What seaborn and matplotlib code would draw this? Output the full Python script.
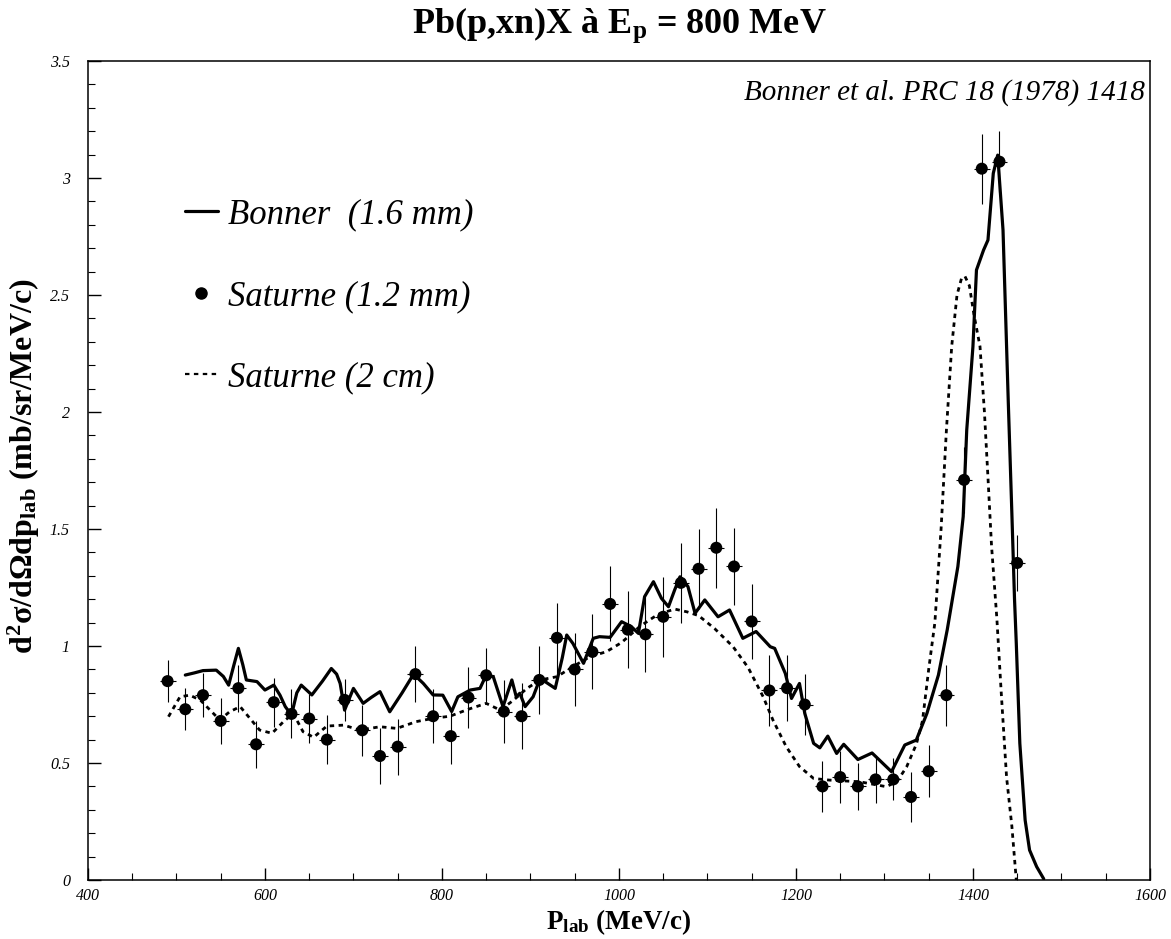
"""Pb(p,xn)X double-differential cross section at Ep = 800 MeV."""

import matplotlib
matplotlib.use("Agg")
import matplotlib.pyplot as plt
from matplotlib.lines import Line2D
from matplotlib.ticker import MultipleLocator, FormatStrFormatter, FuncFormatter
import pandas as pd
import seaborn as sns

# Saturne (1.2 mm) data points with errors
p_data = [490, 510, 530, 550, 570, 590, 610, 630, 650, 670, 690, 710, 730, 750, 770,
          790, 810, 830, 850, 870, 890, 910, 930, 950, 970, 990, 1010, 1030, 1050,
          1070, 1090, 1110, 1130, 1150, 1170, 1190, 1210, 1230, 1250, 1270, 1290,
          1310, 1330, 1350, 1370, 1390, 1410, 1430, 1450]
sigma_data = [0.85, 0.73, 0.79, 0.68, 0.82, 0.58, 0.76, 0.71, 0.69, 0.60, 0.77, 0.64,
              0.53, 0.57, 0.88, 0.70, 0.615, 0.78, 0.875, 0.72, 0.70, 0.855, 1.035,
              0.90, 0.975, 1.18, 1.07, 1.05, 1.125, 1.27, 1.33, 1.42, 1.34, 1.105,
              0.81, 0.82, 0.75, 0.40, 0.44, 0.40, 0.43, 0.43, 0.355, 0.465, 0.79,
              1.71, 3.04, 3.07, 1.355]
sigma_err = [0.09, 0.09, 0.095, 0.10, 0.10, 0.10, 0.105, 0.105, 0.105, 0.105, 0.09,
             0.11, 0.12, 0.12, 0.12, 0.115, 0.12, 0.13, 0.115, 0.135, 0.14, 0.145,
             0.15, 0.155, 0.16, 0.16, 0.165, 0.16, 0.17, 0.17, 0.17, 0.17, 0.165,
             0.16, 0.15, 0.14, 0.13, 0.11, 0.11, 0.10, 0.10, 0.09, 0.105, 0.11, 0.13,
             0.14, 0.15, 0.13, 0.12]

# Bonner (1.6 mm) curve
bonner_p = [510, 520, 530, 545, 553, 559, 565, 570, 575, 579, 591, 600, 610, 617, 623,
            630, 636, 641, 653, 665, 675, 681, 685, 690, 700, 711, 720, 730, 741, 755,
            768, 779, 790, 801, 811, 818, 832, 843, 850, 858, 869, 879, 884, 888, 894,
            903, 911, 928, 936, 941, 948, 960, 971, 978, 990, 1003, 1014, 1022, 1029,
            1039, 1048, 1056, 1063, 1069, 1078, 1086, 1097, 1112, 1125, 1140, 1155,
            1171, 1176, 1188, 1195, 1204, 1210, 1220, 1227, 1236, 1246, 1254, 1270,
            1286, 1308, 1323, 1336, 1348, 1361, 1371, 1383, 1389, 1393, 1400, 1404,
            1412, 1417, 1423, 1428, 1434, 1440, 1444, 1447, 1449, 1453, 1459, 1464,
            1472, 1480]
bonner_sigma = [0.876, 0.885, 0.895, 0.897, 0.87, 0.833, 0.92, 0.99, 0.92, 0.855,
                0.848, 0.812, 0.833, 0.79, 0.741, 0.705, 0.80, 0.833, 0.791, 0.85,
                0.904, 0.88, 0.840, 0.726, 0.819, 0.755, 0.78, 0.805, 0.719, 0.80,
                0.880, 0.84, 0.791, 0.79, 0.72, 0.783, 0.812, 0.819, 0.876, 0.869,
                0.741, 0.855, 0.783, 0.798, 0.741, 0.783, 0.862, 0.819, 0.95, 1.047,
                1.011, 0.926, 1.033, 1.040, 1.037, 1.104, 1.083, 1.054, 1.211, 1.275,
                1.204, 1.168, 1.24, 1.296, 1.254, 1.14, 1.197, 1.125, 1.154, 1.033,
                1.062, 0.997, 0.99, 0.883, 0.776, 0.840, 0.712, 0.584, 0.565, 0.615,
                0.541, 0.58, 0.515, 0.543, 0.463, 0.577, 0.598, 0.712, 0.876, 1.07,
                1.34, 1.553, 1.923, 2.279, 2.607, 2.692, 2.735, 3.02, 3.098, 2.778,
                2.037, 1.567, 1.2, 1.011, 0.584, 0.256, 0.128, 0.057, 0.005]

# Saturne (2 cm) curve
sat2_p = [491, 504, 515, 527, 536, 549, 560, 572, 583, 594, 608, 621, 632, 643, 655,
          670, 689, 707, 730, 749, 771, 790, 809, 830, 850, 866, 881, 896, 911, 930,
          948, 967, 986, 1003, 1024, 1044, 1063, 1077, 1090, 1108, 1129, 1146, 1163,
          1174, 1189, 1204, 1220, 1238, 1272, 1302, 1314, 1325, 1336, 1343, 1350,
          1357, 1364, 1370, 1376, 1382, 1387, 1391, 1396, 1401, 1408, 1413, 1417,
          1421, 1427, 1432, 1438, 1444, 1449]
sat2_sigma = [0.698, 0.783, 0.79, 0.769, 0.734, 0.684, 0.719, 0.741, 0.691, 0.641,
              0.627, 0.677, 0.712, 0.634, 0.610, 0.658, 0.662, 0.641, 0.655, 0.648,
              0.677, 0.691, 0.70, 0.73, 0.755, 0.726, 0.769, 0.819, 0.855, 0.869,
              0.912, 0.954, 0.976, 1.015, 1.085, 1.135, 1.158, 1.146, 1.13, 1.075,
              0.997, 0.908, 0.783, 0.684, 0.570, 0.485, 0.434, 0.427, 0.42, 0.399,
              0.42, 0.483, 0.58, 0.68, 0.90, 1.10, 1.50, 1.92, 2.28, 2.50, 2.57,
              2.58, 2.54, 2.42, 2.28, 2.00, 1.72, 1.43, 1.12, 0.80, 0.44, 0.23, 0.0]

legend_labels = ["Bonner  (1.6 mm)", "Saturne (1.2 mm)", "Saturne (2 cm)"]

sns.set_style("ticks")
plt.rcParams["font.family"] = ["Liberation Serif", "DejaVu Serif"]
plt.rcParams["mathtext.fontset"] = "custom"
plt.rcParams["mathtext.rm"] = "Liberation Serif"
plt.rcParams["mathtext.bf"] = "Liberation Serif:bold"
plt.rcParams["mathtext.it"] = "Liberation Serif:italic"
for key in ["text.color", "axes.labelcolor", "xtick.color", "ytick.color"]:
    plt.rcParams[key] = "black"

points = pd.DataFrame({"p": p_data, "sigma": sigma_data, "err": sigma_err})
bonner = pd.DataFrame({"p": bonner_p, "sigma": bonner_sigma})
sat2 = pd.DataFrame({"p": sat2_p, "sigma": sat2_sigma})

fig = plt.figure(figsize=(11.71, 9.39), dpi=100)
ax = fig.add_axes([0.0751, 0.0628, 0.9069, 0.8722])

sns.lineplot(data=sat2, x="p", y="sigma", ax=ax, color="black", lw=2.0,
             linestyle=(0, (1.6, 1.6)), estimator=None, sort=False)
sns.lineplot(data=bonner, x="p", y="sigma", ax=ax, color="black", lw=2.3,
             estimator=None, sort=False, solid_joinstyle="round")
ax.errorbar(points["p"], points["sigma"], yerr=points["err"], xerr=9, fmt="none",
            ecolor="black", elinewidth=0.8, capsize=0, zorder=3)
sns.scatterplot(data=points, x="p", y="sigma", ax=ax, color="black", s=75,
                edgecolor="none", zorder=4)

ax.set_xlim(400, 1600)
ax.set_ylim(0, 3.5)
ax.xaxis.set_major_locator(MultipleLocator(200))
ax.xaxis.set_minor_locator(MultipleLocator(50))
ax.yaxis.set_major_locator(MultipleLocator(0.5))
ax.yaxis.set_minor_locator(MultipleLocator(0.1))
ax.yaxis.set_major_formatter(FuncFormatter(lambda v, _: f"{v:g}"))
ax.xaxis.set_major_formatter(FormatStrFormatter("%d"))
ax.tick_params(which="major", direction="in", length=9, width=1.0, labelsize=11.5)
ax.tick_params(which="minor", direction="in", length=5, width=0.8)
ax.tick_params(axis="y", pad=13)
ax.tick_params(axis="x", pad=6)
for lab in ax.get_xticklabels() + ax.get_yticklabels():
    lab.set_fontstyle("italic")
for sp in ax.spines.values():
    sp.set_linewidth(1.1)
    sp.set_color("black")

ax.set_xlabel(r"P$_\mathbf{lab}$ (MeV/c)", fontsize=19.5, fontweight="bold")
ax.set_ylabel(r"d$^\mathbf{2}$σ/dΩdp$_\mathbf{lab}$ (mb/sr/MeV/c)", fontsize=23,
              fontweight="bold")
ax.xaxis.set_label_coords(0.5, -0.033)
ax.yaxis.set_label_coords(-0.043, 0.505)

fig.text(619 / 1171, 1 - 33 / 939, r"Pb(p,xn)X à E$_\mathbf{p}$ = 800 MeV", ha="center",
         va="baseline", fontsize=26, fontweight="bold")
ax.text(0.9953, 0.9524, "Bonner et al. PRC 18 (1978) 1418", transform=ax.transAxes,
        ha="right", va="baseline", fontsize=21, fontstyle="italic")

handles = [
    Line2D([], [], color="black", lw=2.3),
    Line2D([], [], color="black", marker="o", ls="none", markersize=8),
    Line2D([], [], color="black", lw=1.6, linestyle=(0, (2, 2))),
]
ax.legend(handles, legend_labels, loc="upper left", bbox_to_anchor=(0.0913, 0.832),
          frameon=False, borderpad=0, borderaxespad=0, handlelength=0.95,
          handletextpad=0.3, labelspacing=1.39,
          prop={"family": "Liberation Serif", "style": "italic", "size": 25})

fig.savefig("out.png", dpi=100)
